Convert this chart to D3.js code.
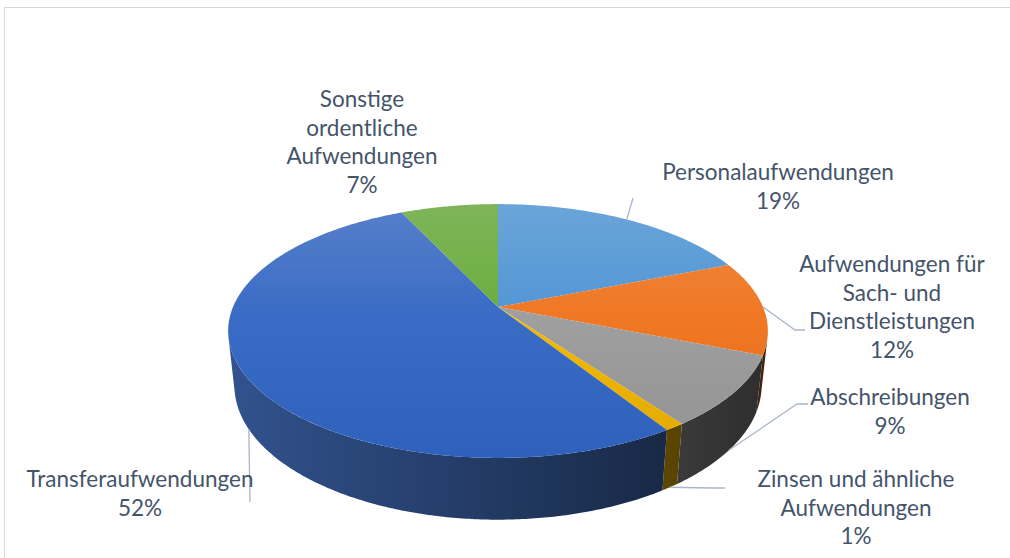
<!DOCTYPE html>
<html>
<head>
<meta charset="utf-8">
<script src="https://cdnjs.cloudflare.com/ajax/libs/d3/7.8.5/d3.min.js"></script>
<style>
  body { margin: 0; background: #fff; }
  .label { font-family: Lato, "Open Sans", sans-serif; font-size: 22.5px; fill: #44546A; }
</style>
</head>
<body>
<div id="chart"></div>
<script>
// values
let categories = ["Personalaufwendungen", "Aufwendungen für Sach- und Dienstleistungen", "Abschreibungen",
                  "Zinsen und ähnliche Aufwendungen", "Transferaufwendungen", "Sonstige ordentliche Aufwendungen"];
let shares = [19, 12, 9, 1, 52, 7];
let labelLines = [
  ["Personalaufwendungen"],
  ["Aufwendungen für", "Sach- und", "Dienstleistungen"],
  ["Abschreibungen"],
  ["Zinsen und ähnliche", "Aufwendungen"],
  ["Transferaufwendungen"],
  ["Sonstige", "ordentliche", "Aufwendungen"]
];
let colors = ["#5B9BD5", "#ED7D31", "#A5A5A5", "#FFC000", "#4472C4", "#70AD47"];

// label placement (centre x, first baseline, leader bends)
let labelLayout = [
  {x: 778, y: 180, leader: [[633, 198]]},
  {x: 892, y: 272, leader: [[795, 330], [805, 330]]},
  {x: 890, y: 405, leader: [[797, 404], [808, 404]]},
  {x: 856, y: 487, leader: [[712, 488], [725, 488]]},
  {x: 140, y: 487, leader: [[250, 502]]},
  {x: 362, y: 107, leader: null}
];

let width = 1010, height = 558;
let cx = 498, cy = 307, R = 265, H = 62, D = 1243, tilt = 27.5 * Math.PI / 180;
let lineHeight = 28.5;

// simple perspective projection of the disc
function project(a, r, y) {
  let x = r * Math.sin(a), z = r * Math.cos(a);
  let yc = y * Math.cos(tilt) + z * Math.sin(tilt);
  let zc = z * Math.cos(tilt) - y * Math.sin(tilt);
  let s = D / (D + zc);
  return [cx + x * s, cy - yc * s];
}

function arcPoints(a0, a1, y) {
  let n = Math.max(2, Math.ceil((a1 - a0) / 0.01));
  return d3.range(n + 1).map(function(i){ return project(a0 + (a1 - a0) * i / n, R, y); });
}

function deepen(c, k, ds) {
  let h = d3.hsl(c.darker(k));
  h.s = Math.min(1, h.s * ds);
  return h.formatHex();
}

// side is visible where the outward normal faces the camera
let sideMin = Math.acos(-R / (D * Math.cos(tilt)));
let sideMax = 2 * Math.PI - sideMin;

let svg = d3.select("#chart").append("svg")
  .attr("width", width)
  .attr("height", height);

svg.append("rect")
  .attr("x", 4.5).attr("y", 7.5)
  .attr("width", width + 10).attr("height", height + 10)
  .attr("fill", "#fff")
  .attr("stroke", "#D9D9D9")
  .attr("stroke-width", 1);

let defs = svg.append("defs");
let line = d3.line();

let arcs = d3.pie().sort(null).value(function(d){ return d; })(shares);

// gradients
arcs.forEach(function(d, i){
  let c = d3.rgb(colors[i]);
  let top = defs.append("linearGradient")
    .attr("id", "top" + i)
    .attr("gradientUnits", "userSpaceOnUse")
    .attr("x1", 0).attr("x2", 0).attr("y1", cy - 105).attr("y2", cy + 150);
  top.append("stop").attr("offset", 0).attr("stop-color", d3.interpolateRgb(c, "#fff")(0.1));
  top.append("stop").attr("offset", 0.45).attr("stop-color", deepen(c, 0.1, 1.12));
  top.append("stop").attr("offset", 1).attr("stop-color", deepen(c, 0.35, 1.25));

  let side = defs.append("linearGradient")
    .attr("id", "side" + i)
    .attr("gradientUnits", "userSpaceOnUse")
    .attr("x1", cx - R).attr("x2", cx + R).attr("y1", 0).attr("y2", 0);
  side.append("stop").attr("offset", 0)
    .attr("stop-color", d3.rgb(c.r * 0.72, c.g * 0.72, c.b * 0.72));
  side.append("stop").attr("offset", 1)
    .attr("stop-color", d3.rgb(c.r * 0.28, c.g * 0.28, c.b * 0.28));
});

// outer wall
let sides = svg.append("g").attr("class", "sides");
arcs.forEach(function(d, i){
  let a0 = Math.max(d.startAngle, sideMin), a1 = Math.min(d.endAngle, sideMax);
  if (a1 <= a0) return;
  let pts = arcPoints(a0, a1, 0).concat(arcPoints(a0, a1, -H).reverse());
  sides.append("path")
    .attr("d", line(pts) + "Z")
    .attr("fill", "url(#side" + i + ")");
});

// top face
svg.append("g").attr("class", "slices")
  .selectAll("path")
  .data(arcs)
  .enter().append("path")
    .attr("d", function(d){
      return line([[cx, cy]].concat(arcPoints(d.startAngle, d.endAngle, 0))) + "Z";
    })
    .attr("fill", function(d, i){ return "url(#top" + i + ")"; });

// leader lines
arcs.forEach(function(d, i){
  let lay = labelLayout[i];
  if (!lay.leader) return;
  let mid = (d.startAngle + d.endAngle) / 2;
  let start = (mid > sideMin && mid < sideMax) ? project(mid, R, -H) : project(mid, R, 0);
  svg.append("path")
    .attr("d", line([start].concat(lay.leader)))
    .attr("fill", "none")
    .attr("stroke", "#A9B6C8")
    .attr("stroke-width", 1.3);
});

// labels
arcs.forEach(function(d, i){
  let lay = labelLayout[i];
  let txt = svg.append("text")
    .attr("class", "label")
    .attr("text-anchor", "middle");
  labelLines[i].concat([shares[i] + "%"]).forEach(function(s, k){
    txt.append("tspan")
      .attr("x", lay.x)
      .attr("y", lay.y + k * lineHeight)
      .text(s);
  });
});
</script>
</body>
</html>
